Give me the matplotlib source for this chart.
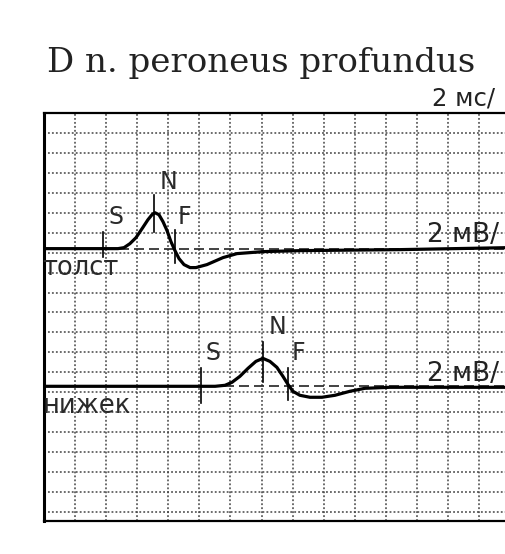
import matplotlib
matplotlib.use('Agg')
from matplotlib import pyplot as plt
import numpy as np

# time axis in ms (2 ms per division), amplitudes in mV relative to each baseline
t_top = [0.0, 4.76, 5.15, 5.53, 5.92, 6.31, 6.69, 6.95, 7.14, 7.40, 7.66, 7.92,
         8.17, 8.43, 8.69, 9.01, 9.40, 9.78, 10.49, 11.52, 12.42, 14.09, 16.47,
         22.9, 29.9]
v_top = [0.0, 0.0, 0.1, 0.5, 1.1, 2.0, 2.9, 3.4, 3.6, 3.4, 2.7, 1.8,
         0.7, -0.2, -1.0, -1.6, -1.9, -1.9, -1.6, -0.9, -0.5, -0.3, -0.2,
         -0.1, 0.1]

t_low = [0.0, 11.01, 11.65, 12.10, 12.61, 13.13, 13.64, 14.09, 14.54, 14.99,
         15.38, 15.70, 16.02, 16.47, 17.12, 17.89, 18.73, 19.69, 20.66, 22.27,
         29.9]
v_low = [0.0, 0.0, 0.1, 0.4, 1.0, 1.8, 2.5, 2.8, 2.5, 1.9,
         1.0, 0.2, -0.5, -0.9, -1.1, -1.1, -0.9, -0.5, -0.2, -0.1,
         -0.1]

base_top = 26.4
base_low = 12.6

# S, N, F markers: time, lower and upper end of the tick (mV, relative)
marks_top = {'S': (3.80, -0.8, 1.7), 'N': (7.08, 1.7, 5.4), 'F': (8.43, -1.4, 1.9)}
marks_low = {'S': (10.10, -1.7, 1.8), 'N': (14.09, 0.4, 4.4), 'F': (15.70, -1.4, 1.8)}
label_pos_top = {'S': (4.63, 3.2), 'N': (8.04, 6.7), 'F': (9.07, 3.2)}
label_pos_low = {'S': (10.88, 3.3), 'N': (15.06, 5.9), 'F': (16.35, 3.3)}

fig = plt.figure(figsize=(5.06, 5.54), dpi=100)
ax = fig.add_axes([0.087, 0.0596, 0.921, 0.7365])

ax.set_xlim(0, 30)
ax.set_ylim(-0.9, 40)
ax.set_xticks(np.arange(0, 31, 2))
ax.set_yticks(np.arange(0, 40, 2))
ax.tick_params(length=0, labelbottom=False, labelleft=False)
ax.grid(True, color='#444444', linestyle=(0, (1.2, 1.4)), linewidth=1.1)
ax.set_axisbelow(True)
for side in ['left', 'top', 'bottom', 'right']:
    ax.spines[side].set_linewidth(1.6)
ax.spines['left'].set_linewidth(2.2)

# dashed reference lines at each baseline
ax.axhline(base_top, color='#222222', linestyle=(0, (6, 3)), linewidth=1.2)
ax.axhline(base_low, color='#222222', linestyle=(0, (6, 3)), linewidth=1.2)

# traces
ax.plot(t_top, np.array(v_top) + base_top, color='black', linewidth=2.3,
        solid_joinstyle='round', solid_capstyle='round')
ax.plot(t_low, np.array(v_low) + base_low, color='black', linewidth=2.3,
        solid_joinstyle='round', solid_capstyle='round')

for marks, labels, base in [(marks_top, label_pos_top, base_top),
                            (marks_low, label_pos_low, base_low)]:
    for name, (tm, lo, hi) in marks.items():
        ax.plot([tm, tm], [base + lo, base + hi], color='black', linewidth=1.2)
        lx, ly = labels[name]
        ax.text(lx, base + ly, name, ha='center', va='center', fontsize=17,
                color='#2a2a2a', family='DejaVu Sans')

# scale labels
ax.text(24.65, 27.1, '2 мВ/', fontsize=19, color='#222222', va='baseline',
        family='DejaVu Sans', clip_on=False)
ax.text(24.65, 13.15, '2 мВ/', fontsize=19, color='#222222', va='baseline',
        family='DejaVu Sans', clip_on=False)
ax.text(24.97, 40.75, '2 мс/', fontsize=17.5, color='#222222', va='baseline',
        family='DejaVu Sans', clip_on=False)

# trace names
ax.text(-0.1, 23.8, 'толст', fontsize=18.5, color='#2a2a2a', va='baseline',
        family='DejaVu Sans', clip_on=False)
ax.text(-0.1, 9.95, 'нижек', fontsize=18.5, color='#2a2a2a', va='baseline',
        family='DejaVu Sans', clip_on=False)

fig.text(47 / 506, 1 - 72 / 554, 'D n. peroneus profundus', fontsize=24.5,
         family='DejaVu Serif', color='#222222', va='baseline')

fig.savefig('out.png', dpi=100)
